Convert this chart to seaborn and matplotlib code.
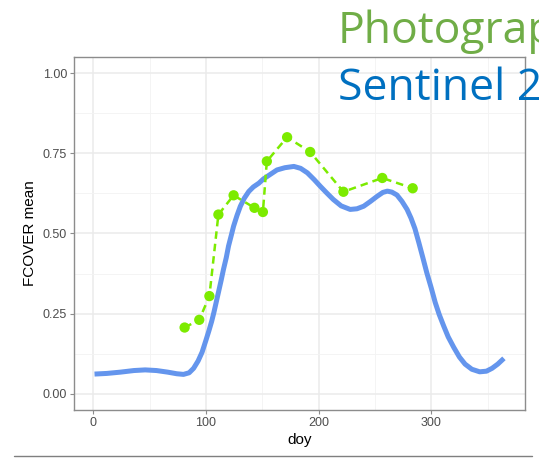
import numpy as np
import pandas as pd
import seaborn as sns
import matplotlib.pyplot as plt
from matplotlib.lines import Line2D
from matplotlib.ticker import MultipleLocator

# photograph FCOVER (points)
photo_doy = [81, 94, 103, 111, 124.5, 143, 150.5, 154, 172, 192.5, 222, 256.5, 283.5]
photo_fcover = [0.207, 0.231, 0.305, 0.559, 0.619, 0.580, 0.567, 0.725, 0.800, 0.754, 0.630, 0.673, 0.641]

# Sentinel 2 smoothed FCOVER
s2_doy = [1, 12, 24, 36, 46, 56, 66, 74, 80, 85, 89, 93, 96.5, 100, 102.5, 105, 107,
          109, 111, 113.5, 115.5, 118, 120, 122.5, 124.5, 127.5, 130.5, 134, 138, 142,
          147, 151, 157, 163, 170, 178, 184, 190, 196, 201.5, 207, 213, 220, 228, 234,
          240, 246, 252, 257, 261, 265, 269.5, 274, 278.5, 282, 285.5, 289, 292.5, 296,
          300, 303.5, 307, 311, 315, 320, 325, 330, 336, 343, 349, 354, 359, 364.5]
s2_fcover = [0.062, 0.064, 0.068, 0.073, 0.075, 0.073, 0.068, 0.063, 0.061, 0.066,
             0.080, 0.103, 0.130, 0.168, 0.196, 0.226, 0.254, 0.285, 0.316, 0.355,
             0.388, 0.425, 0.461, 0.495, 0.523, 0.556, 0.585, 0.610, 0.631, 0.645,
             0.657, 0.670, 0.684, 0.698, 0.705, 0.709, 0.703, 0.689, 0.668, 0.647,
             0.627, 0.606, 0.586, 0.575, 0.577, 0.585, 0.600, 0.616, 0.628, 0.632,
             0.629, 0.620, 0.600, 0.575, 0.548, 0.515, 0.471, 0.425, 0.378, 0.330,
             0.285, 0.248, 0.212, 0.178, 0.145, 0.115, 0.093, 0.077, 0.069, 0.071,
             0.080, 0.093, 0.111]

photo_df = pd.DataFrame({"doy": photo_doy, "FCOVER mean": photo_fcover})
s2_df = pd.DataFrame({"doy": s2_doy, "FCOVER mean": s2_fcover})

sns.set_theme(style="whitegrid")
plt.rcParams['font.family'] = ['Liberation Sans', 'DejaVu Sans']

fig = plt.figure(figsize=(5.39, 4.61), dpi=100)
ax = fig.add_axes([0.1373, 0.1106, 0.974 - 0.1373, 0.8764 - 0.1106])
ax.set_facecolor("white")

sns.lineplot(data=s2_df, x="doy", y="FCOVER mean", ax=ax, color="#6495ED",
             linewidth=3.6, estimator=None, zorder=3,
             solid_joinstyle="round", solid_capstyle="butt")
sns.lineplot(data=photo_df, x="doy", y="FCOVER mean", ax=ax, color="#7CEB00",
             linewidth=1.8, linestyle=(0, (3, 2)), estimator=None, zorder=4)
sns.scatterplot(data=photo_df, x="doy", y="FCOVER mean", ax=ax, color="#7CEB00",
                s=55, edgecolor="none", zorder=5)

ax.set_xlim(-17.2, 383.2)
ax.set_ylim(-0.05, 1.05)
ax.set_xticks([0, 100, 200, 300])
ax.set_yticks([0, 0.25, 0.5, 0.75, 1.0])
ax.set_yticklabels(["0.00", "0.25", "0.50", "0.75", "1.00"])
ax.xaxis.set_minor_locator(MultipleLocator(50))
ax.yaxis.set_minor_locator(MultipleLocator(0.125))

ax.grid(which="major", color="#EBEBEB", linewidth=1.1)
ax.grid(which="minor", color="#F3F3F3", linewidth=0.6)
ax.set_axisbelow(True)
for sp in ax.spines.values():
    sp.set_color("#8C8C8C")
    sp.set_linewidth(1.0)
ax.tick_params(which="major", length=3, width=0.8, color="#8C8C8C",
               labelsize=9, labelcolor="#4D4D4D", pad=2, bottom=True, left=True)
ax.tick_params(which="minor", length=0)
ax.set_xlabel("doy", fontsize=11, color="black", labelpad=3)
ax.set_ylabel("FCOVER mean", fontsize=11, color="black", labelpad=4)

fig.text(338 / 539, 1 - 43.5 / 461, "Photograp", fontsize=32, color="#70AD47",
         family=["Open Sans", "DejaVu Sans"], va="baseline", ha="left")
fig.text(338 / 539, 1 - 100 / 461, "Sentinel 2", fontsize=32, color="#0070C0",
         family=["Open Sans", "DejaVu Sans"], va="baseline", ha="left")

fig.add_artist(Line2D([14 / 539, 532 / 539], [1 - 456 / 461, 1 - 456 / 461],
                      color="#7F7F7F", linewidth=1.0))

fig.savefig("out.png", dpi=100)
